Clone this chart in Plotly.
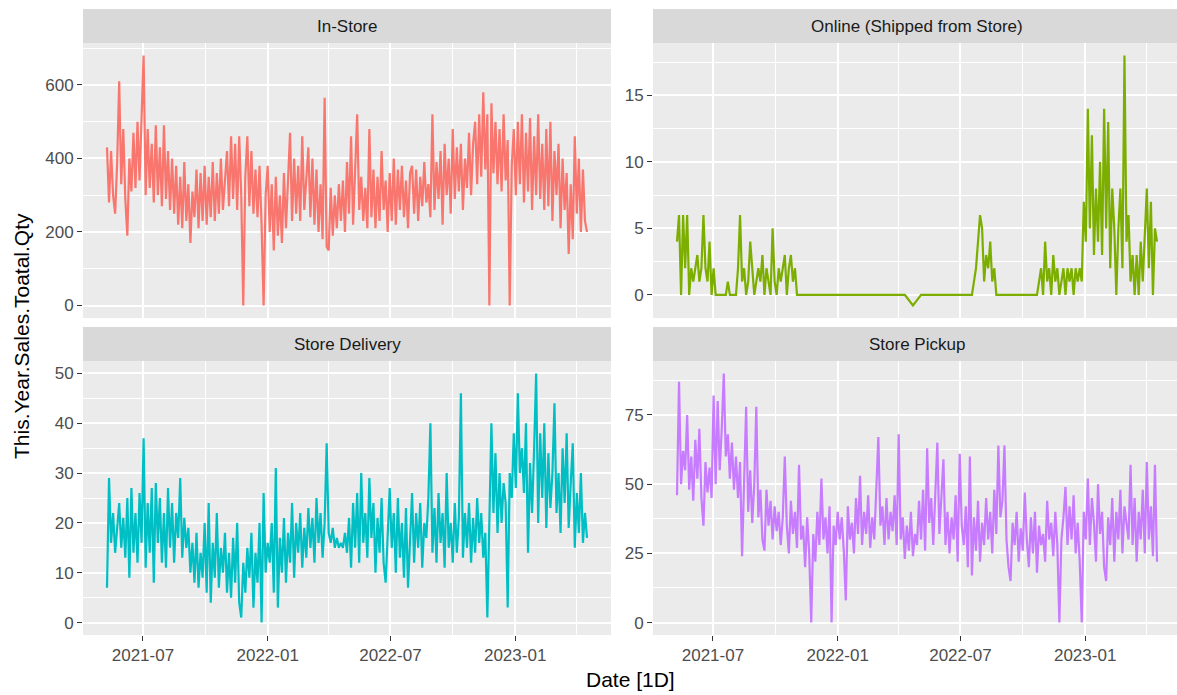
import pandas as pd
import plotly.graph_objects as go

# Daily sales quantity by channel, sampled every third day
start_date = "2021-05-09"
sample_step = "3D"

in_store = [
    430, 280, 420, 300, 250, 390, 610, 330,
    480, 290, 190, 400, 310, 470, 320, 500, 340, 520,
    680, 300, 480, 320, 440, 280, 490, 300, 430, 270,
    490, 290, 420, 260, 400, 250, 380, 220, 350, 210,
    390, 230, 330, 170, 310, 240, 370, 210, 360, 230,
    380, 220, 350, 240, 390, 230, 360, 250, 400, 260, 350,
    420, 270, 460, 290, 440, 260, 460, 300, 0, 350,
    460, 270, 420, 250, 370, 240, 380, 220, 0, 300,
    380, 200, 330, 150, 350, 190, 300, 170, 360, 210, 330,
    470, 230, 400, 250, 380, 230, 460, 260, 350,
    430, 240, 400, 220, 370, 200, 330, 180, 565, 160,
    150, 320, 190, 300, 210, 330, 230, 340, 200, 390,
    250, 460, 220, 370, 520, 260, 350, 230, 320, 210,
    480, 240, 370, 210, 350, 230, 420, 260, 340, 200,
    360, 230, 400, 220, 370, 260, 380, 240, 340, 210, 360,
    380, 250, 370, 230, 350, 270, 390, 280, 330, 240,
    520, 260, 390, 290, 420, 220, 440, 300, 400, 250,
    480, 290, 430, 310, 440, 260, 400, 320, 470, 300, 440,
    500, 330, 520, 350, 580, 370, 520, 0, 550, 360,
    500, 330, 480, 310, 520, 340, 450, 0, 380, 480,
    300, 500, 330, 520, 280, 470, 310, 510, 260, 460,
    300, 520, 290, 440, 260, 480, 270, 500, 230, 420,
    300, 440, 210, 400, 260, 360, 140, 330, 180, 460,
    250, 400, 200, 370, 230, 200,
]

online_shipped = [
    4, 6, 0, 6, 2, 6, 0,
    2, 1, 2, 3, 1, 2,
    6, 2, 1, 4, 0, 2,
    0, 0, 0, 0, 0, 0, 1, 0, 0, 0,
    0, 2, 6, 1, 2, 0, 1, 4, 2, 0,
    1, 2, 1, 3, 0, 2, 1, 0, 5, 1,
    0, 2, 1, 2, 3, 0, 2, 3, 1, 2,
    0, 0, 0, 0, 0, 0, 0, 0, 0, 0,
    0, 0, 0, 0, 0, 0, 0, 0, 0, 0,
    0, 0, 0, 0, 0, 0, 0, 0, 0, 0,
    0, 0, 0, 0, 0, 0, 0, 0, 0, 0,
    0, 0, 0, 0, 0, 0, 0, 0, 0, 0,
    0, 0, 0,
    0, -0.2, -0.4, -0.6, -0.8, -0.6, -0.4, -0.2, 0,
    0, 0, 0, 0, 0, 0, 0, 0, 0, 0,
    0, 0, 0, 0, 0, 0, 0, 0, 0, 0,
    0, 0, 0, 0, 0,
    1, 2, 4, 6, 5, 1, 3, 2, 4, 1, 2, 0,
    0, 0, 0, 0, 0, 0, 0, 0, 0, 0,
    0, 0, 0, 0, 0, 0, 0, 0, 0, 0,
    1, 2, 0, 4, 1, 2, 0, 3, 1, 2, 0,
    1, 2, 0, 2, 1, 2, 0, 2, 1, 2, 1,
    7, 4, 14, 5, 12, 3, 8, 4, 10, 3,
    14, 5, 13, 2, 8, 5, 0, 5, 8, 2,
    18, 4, 6, 1, 3, 0, 3, 0, 4, 1,
    5, 8, 2, 7, 0, 5, 4,
]

store_delivery = [
    7, 29, 16, 22, 14, 20, 24, 15, 21, 13,
    25, 9, 27, 14, 22, 12, 26, 16, 37, 11,
    24, 14, 27, 8, 28, 16, 25, 12, 22, 11,
    27, 15, 24, 12, 22, 17, 29, 13, 21, 15,
    19, 10, 16, 8, 18, 7, 14, 9, 20, 6,
    24, 4, 16, 9, 22, 7, 15, 10, 18, 6,
    14, 5, 17, 8, 20, 4, 1, 12, 6, 15,
    9, 18, 3, 14, 8, 20, 0, 26, 10, 16,
    12, 20, 6, 31, 3, 17, 10, 21, 8, 18,
    12, 24, 9, 20, 14, 22, 11, 19, 13, 23,
    15, 21, 12, 25, 16, 22, 13, 20, 36, 18,
    16, 19, 15, 17, 15, 16, 15, 18, 14, 21,
    11, 24, 15, 26, 12, 30, 16, 22, 13, 29,
    17, 24, 10, 21, 14, 25, 12, 8, 19, 27,
    15, 22, 10, 25, 13, 20, 9, 23, 7, 18,
    26, 12, 22, 15, 24, 11, 20, 17, 25, 40,
    14, 23, 12, 26, 16, 22, 11, 30, 15, 20,
    12, 24, 14, 21, 46, 13, 22, 15, 24, 12,
    21, 14, 25, 16, 22, 13, 18, 1, 20, 40,
    22, 34, 18, 30, 20, 28, 24, 3, 30, 25,
    38, 27, 46, 30, 35, 26, 40, 14, 32, 22,
    35, 50, 20, 38, 25, 40, 19, 34, 23, 30,
    44, 22, 30, 18, 35, 24, 38, 19, 28, 36,
    15, 26, 18, 30, 16, 22, 17,
]

store_pickup = [
    46, 87, 50, 62, 55, 75, 48, 60, 44, 66,
    52, 70, 45, 35, 58, 47, 56, 45, 82, 50,
    80, 55, 70, 90, 60, 68, 52, 65, 48, 60,
    45, 58, 24, 50, 78, 40, 55, 36, 50, 78,
    38, 48, 30, 26, 48, 35, 44, 30, 42, 33,
    40, 28, 38, 60, 35, 25, 44, 32, 40, 27,
    57, 30, 35, 20, 38, 25, 0, 32, 22, 40,
    28, 52, 30, 38, 25, 42, 0, 35, 28, 40,
    30, 38, 26, 8, 42, 30, 36, 25, 45, 32,
    53, 28, 40, 32, 46, 27, 38, 30, 48, 67,
    35, 42, 28, 45, 30, 40, 33, 46, 28, 68,
    30, 38, 23, 35, 26, 40, 24, 32, 28, 44,
    30, 48, 26, 63, 36, 45, 28, 50, 65, 32,
    45, 59, 28, 40, 25, 38, 30, 46, 22, 61,
    35, 28, 42, 20, 60, 17, 38, 26, 44, 22,
    36, 28, 45, 30, 40, 25, 48, 32, 64, 38,
    44, 64, 30, 20, 15, 36, 28, 40, 22, 34,
    26, 47, 30, 20, 38, 25, 40, 18, 35, 28,
    32, 22, 44, 30, 36, 24, 40, 28, 0, 30,
    38, 49, 28, 42, 30, 46, 25, 36, 22, 0,
    40, 30, 52, 28, 45, 36, 22, 50, 32, 40,
    20, 15, 38, 28, 45, 22, 40, 30, 48, 25,
    42, 35, 30, 57, 28, 45, 22, 40, 30, 48,
    25, 58, 30, 42, 24, 57, 22,
]

facet_titles = ["In-Store", "Online (Shipped from Store)", "Store Delivery", "Store Pickup"]
facet_values = [in_store, online_shipped, store_delivery, store_pickup]
facet_colors = ["#F8766D", "#7CAE00", "#00BFC4", "#C77CFF"]

x_major = ["2021-07-01", "2022-01-01", "2022-07-01", "2023-01-01"]
x_major_text = ["2021-07", "2022-01", "2022-07", "2023-01"]
x_minor = ["2021-10-01", "2022-04-01", "2022-10-01", "2023-04-01"]

y_major = [[0, 200, 400, 600], [0, 5, 10, 15], [0, 10, 20, 30, 40, 50], [0, 25, 50, 75]]
y_minor = [[100, 300, 500, 700], [2.5, 7.5, 12.5, 17.5], [5, 15, 25, 35, 45], [12.5, 37.5, 62.5, 87.5]]

W, H = 1177, 695
FONT = "Liberation Sans, Arial, Helvetica, sans-serif"


def fx(p):
    return p / W


def fy(p):
    return 1 - p / H


# panel boxes in pixels: (left, right, top, bottom); full panel width is 528 px
panels = [
    (83, 611, 43, 318),
    (653, 1177, 43, 318),
    (83, 611, 361, 635),
    (653, 1177, 361, 635),
]
panel_w = 528
strip_h = 34

fig = go.Figure()
layout = {}
shapes = []
annotations = []

for k, (title, vals, color) in enumerate(zip(facet_titles, facet_values, facet_colors)):
    dates = pd.date_range(start_date, periods=len(vals), freq=sample_step)
    d0, d1 = dates[0], dates[-1]
    span_days = (d1 - d0).days
    lo = d0 - pd.Timedelta(days=0.05 * span_days)
    full_days = 1.1 * span_days
    left, right, top, bottom = panels[k]
    # keep the same day-per-pixel scale in every panel (the right column is clipped)
    hi = lo + pd.Timedelta(days=full_days * (right - left) / panel_w)

    vmin, vmax = min(vals), max(vals)
    pad = 0.05 * (vmax - vmin)

    n = "" if k == 0 else str(k + 1)
    fig.add_trace(go.Scatter(
        x=dates, y=vals, mode="lines",
        line=dict(color=color, width=2.2),
        xaxis="x" + n, yaxis="y" + n,
        showlegend=False, hoverinfo="skip",
    ))

    bottom_row = k >= 2
    layout["xaxis" + n] = dict(
        domain=[fx(left), fx(right)],
        anchor="y" + n,
        type="date",
        range=[lo.strftime("%Y-%m-%d %H:%M"), hi.strftime("%Y-%m-%d %H:%M")],
        tickmode="array",
        tickvals=x_major,
        ticktext=x_major_text,
        showticklabels=bottom_row,
        ticks="outside" if bottom_row else "",
        ticklen=5, tickwidth=1.3, tickcolor="#333333",
        tickfont=dict(family=FONT, size=17, color="#4D4D4D"),
        showgrid=True, gridcolor="white", gridwidth=1.8,
        minor=dict(tickvals=x_minor, showgrid=True, gridcolor="white", gridwidth=0.9, ticks=""),
        showline=False, zeroline=False, fixedrange=True,
    )
    layout["yaxis" + n] = dict(
        domain=[fy(bottom), fy(top)],
        anchor="x" + n,
        range=[vmin - pad, vmax + pad],
        tickmode="array",
        tickvals=y_major[k],
        ticks="outside",
        ticklen=5, tickwidth=1.3, tickcolor="#333333",
        tickfont=dict(family=FONT, size=17, color="#4D4D4D"),
        showgrid=True, gridcolor="white", gridwidth=1.8,
        minor=dict(tickvals=y_minor[k], showgrid=True, gridcolor="white", gridwidth=0.9, ticks=""),
        showline=False, zeroline=False, fixedrange=True,
    )

    # facet strip
    shapes.append(dict(
        type="rect", xref="paper", yref="paper",
        x0=fx(left), x1=fx(right), y0=fy(top), y1=fy(top - strip_h),
        fillcolor="#D9D9D9", line=dict(width=0), layer="below",
    ))
    annotations.append(dict(
        text=title, xref="paper", yref="paper",
        x=fx(left + panel_w / 2),
        y=fy(top - strip_h / 2),
        xanchor="center", yanchor="middle", showarrow=False,
        font=dict(family=FONT, size=17, color="#1A1A1A"),
    ))

annotations.append(dict(
    text="This.Year.Sales.Toatal.Qty", xref="paper", yref="paper",
    x=fx(21), y=fy(336), textangle=-90,
    xanchor="center", yanchor="middle", showarrow=False,
    font=dict(family=FONT, size=21, color="black"),
))
annotations.append(dict(
    text="Date [1D]", xref="paper", yref="paper",
    x=fx(630), y=fy(679),
    xanchor="center", yanchor="middle", showarrow=False,
    font=dict(family=FONT, size=21, color="black"),
))

fig.update_layout(
    width=W, height=H,
    margin=dict(l=0, r=0, t=0, b=0),
    paper_bgcolor="white",
    plot_bgcolor="#EBEBEB",
    shapes=shapes,
    annotations=annotations,
    **layout,
)

fig.write_html("out.html")
